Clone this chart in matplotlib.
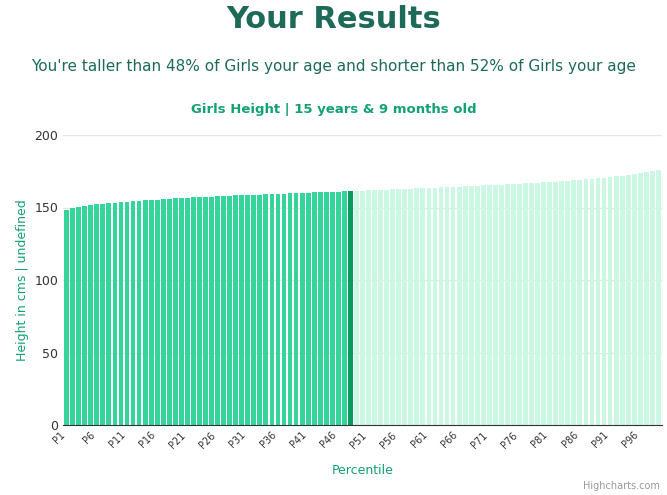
import matplotlib
matplotlib.use("Agg")
import matplotlib.pyplot as plt

percentiles = [f"P{i}" for i in range(1, 100)]
heights = [
    148.5, 149.5, 150.3, 151.0, 151.6, 152.1, 152.6, 153.0, 153.4, 153.8,
    154.1, 154.4, 154.7, 155.0, 155.3, 155.5, 155.8, 156.0, 156.3, 156.5,
    156.7, 156.9, 157.1, 157.3, 157.5, 157.7, 157.9, 158.1, 158.3, 158.4,
    158.6, 158.8, 158.9, 159.1, 159.3, 159.4, 159.6, 159.8, 159.9, 160.1,
    160.2, 160.4, 160.6, 160.7, 160.9, 161.0, 161.2, 161.4, 161.5, 161.7,
    161.8, 162.0, 162.2, 162.3, 162.5, 162.7, 162.8, 163.0, 163.2, 163.3,
    163.5, 163.7, 163.8, 164.0, 164.2, 164.4, 164.6, 164.8, 165.0, 165.2,
    165.4, 165.6, 165.8, 166.0, 166.2, 166.4, 166.6, 166.9, 167.1, 167.4,
    167.6, 167.9, 168.2, 168.5, 168.8, 169.1, 169.4, 169.8, 170.2, 170.6,
    171.0, 171.4, 171.9, 172.4, 173.0, 173.6, 174.3, 175.0, 175.9,
]
user_index = 47  # P48

colors = []
for i in range(len(heights)):
    if i < user_index:
        colors.append("#35d49a")
    elif i == user_index:
        colors.append("#0b9a5e")
    else:
        colors.append("#ccf7e2")

fig = plt.figure(figsize=(6.67, 4.95), dpi=100)
ax = fig.add_axes([63 / 667, 1 - 425 / 495, 599 / 667, 290 / 495])

x = list(range(len(heights)))
ax.bar(x, heights, width=0.8, color=colors)
ax.set_xlim(-0.6, len(heights) - 0.4)
ax.set_ylim(0, 200)
ax.set_yticks([0, 50, 100, 150, 200])
ax.yaxis.grid(True, color="#e6e6e6", linewidth=1)
ax.set_axisbelow(True)
for s in ["top", "right", "left"]:
    ax.spines[s].set_visible(False)
ax.spines["bottom"].set_color("#333333")
ax.tick_params(axis="y", length=0, labelsize=9, colors="#333333")
ax.set_xticks(x[::5])
ax.set_xticklabels(percentiles[::5], rotation=45, ha="right", fontsize=7, color="#333333")
ax.tick_params(axis="x", length=0)
ax.set_ylabel("Height in cms | undefined", color="#12a170", fontsize=9)
ax.set_xlabel("Percentile", color="#12a170", fontsize=9, labelpad=10)

fig.text(0.5, 1 - 20 / 495, "Your Results", ha="center", va="center",
         fontsize=22, fontweight="bold", color="#1d6a58")
fig.text(0.5, 1 - 67 / 495,
         "You're taller than 48% of Girls your age and shorter than 52% of Girls your age",
         ha="center", va="center", fontsize=11, color="#1d6a58")
fig.text(0.5, 1 - 110 / 495, "Girls Height | 15 years & 9 months old",
         ha="center", va="center", fontsize=9.5, fontweight="bold", color="#12a170")
fig.text(660 / 667, 1 - 486 / 495, "Highcharts.com", ha="right", va="center",
         fontsize=7, color="#999999")

fig.savefig("out.png", dpi=100)
